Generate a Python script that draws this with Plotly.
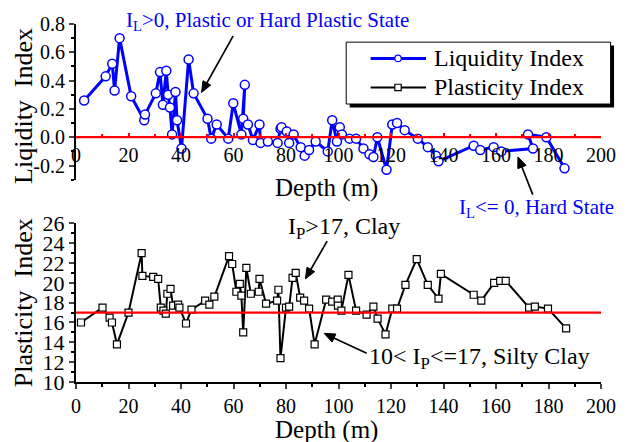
import math
import plotly.graph_objects as go

# ---------------- data ----------------
depth_li = [3.1, 11.3, 13.8, 14.7, 16.6, 21.0, 26.0, 26.3, 30.4, 32.0, 33.1, 34.4, 35.1, 35.8,
            36.6, 37.9, 38.5, 40.2, 42.9, 44.8, 50.1, 51.5, 53.6, 58.0, 59.9, 63.0, 64.3, 63.7,
            65.5, 67.4, 69.9, 70.3, 73.1, 76.8, 77.9, 78.3, 80.3, 81.2, 82.9, 85.6, 87.1, 88.8,
            91.3, 95.9, 97.6, 99.4, 100.5, 101.3, 104.2, 106.7, 109.5, 111.8, 113.3, 114.8, 118.3,
            120.5, 122.3, 125.2, 130.2, 134.0, 137.1, 138.1, 151.5, 154.0, 159.1, 162.0, 174.1,
            172.2, 179.2, 186.1]
li = [0.26, 0.43, 0.52, 0.33, 0.70, 0.29, 0.12, 0.16, 0.31, 0.46, 0.23, 0.47, 0.30, 0.21,
      0.02, 0.32, 0.12, -0.08, 0.55, 0.31, 0.13, -0.01, 0.09, -0.01, 0.24, 0.02, 0.37, 0.13,
      0.09, -0.02, 0.09, -0.04, -0.03, -0.04, 0.06, 0.07, 0.04, -0.04, 0.02, -0.07, -0.13, -0.09,
      -0.03, -0.10, 0.12, -0.03, 0.07, 0.02, -0.01, -0.01, -0.08, -0.12, -0.14, 0.00, -0.23,
      0.09, 0.10, 0.05, -0.01, -0.07, -0.13, -0.17, -0.06, -0.09, -0.07, -0.10, -0.08,
      0.02, 0.00, -0.22]

depth_pi = [1.9, 10.1, 12.8, 13.7, 15.6, 20.0, 25.0, 25.3, 29.4, 31.3, 32.3, 33.3, 34.2, 34.8,
            36.0, 37.0, 38.9, 39.4, 41.9, 44.0, 49.2, 50.8, 52.7, 58.3, 59.5, 61.1, 62.4, 63.0,
            63.7, 64.9, 66.6, 69.6, 69.9, 72.4, 76.6, 77.1, 77.9, 80.0, 81.2, 82.5, 83.7, 85.4,
            86.9, 88.8, 90.9, 95.3, 97.6, 99.7, 99.8, 101.1, 103.8, 106.7, 110.7, 113.3, 114.9,
            117.9, 120.5, 122.3, 125.5, 129.8, 134.0, 138.1, 139.0, 151.5, 154.4, 159.3, 161.6,
            163.7, 172.6, 174.8, 179.8, 186.7]
pi = [16.0, 17.5, 16.5, 16.0, 13.8, 17.0, 23.0, 20.7, 20.6, 20.4, 17.5, 17.2, 16.9, 18.9,
      19.4, 17.7, 17.8, 17.5, 15.9, 17.3, 18.2, 17.8, 18.6, 22.7, 21.9, 19.1, 19.9, 18.7,
      15.0, 21.5, 18.9, 19.1, 20.4, 17.9, 18.2, 19.3, 12.4, 17.5, 17.6, 20.5, 21.0, 18.5,
      18.2, 17.4, 13.8, 18.3, 18.1, 18.3, 17.7, 17.2, 20.8, 17.2, 16.8, 17.6, 16.4,
      14.8, 17.4, 17.4, 19.8, 22.4, 19.8, 18.4, 20.9, 18.8, 18.2, 20.0, 20.2,
      20.2, 17.5, 17.6, 17.4, 15.4]

x_ticks = list(range(0, 201, 20))
li_ticks = [-0.2, 0.0, 0.2, 0.4, 0.6, 0.8]
li_tick_text = ["-0.2", "0.0", "0.2", "0.4", "0.6", "0.8"]
pi_ticks = list(range(10, 27, 2))
li_boundary = 0.0
pi_boundary = 17.0
li_range = [-0.3, 0.8]
pi_range = [10, 26]
depth_range = [0, 200]

# ---------------- layout helpers ----------------
W, H = 628, 442
L, R, T, B = 76, 21, 21, 60
PW, PH = W - L - R, H - T - B
FONT = "Liberation Serif, Times New Roman, serif"


def pxx(x):
    return (x - L) / PW


def pxy(y):
    return (H - B - y) / PH


top_dom = [pxy(178), 1.0]
bot_dom = [0.0, pxy(222)]
zero_frac = (li_boundary - li_range[0]) / (li_range[1] - li_range[0])
xaxis_pos = top_dom[0] + zero_frac * (top_dom[1] - top_dom[0])

fig = go.Figure()
fig.add_trace(go.Scatter(
    x=depth_li, y=li, xaxis="x", yaxis="y", mode="lines+markers", name="Liquidity Index",
    line=dict(color="#0000ff", width=3),
    marker=dict(symbol="circle", size=9, color="white", line=dict(color="#0000ff", width=1.5)),
    showlegend=False))
fig.add_trace(go.Scatter(
    x=depth_pi, y=pi, xaxis="x2", yaxis="y2", mode="lines+markers", name="Plasticity Index",
    line=dict(color="black", width=2),
    marker=dict(symbol="square", size=7, color="white", line=dict(color="black", width=1.2)),
    showlegend=False))

shapes = [
    dict(type="line", xref="x", yref="y", x0=depth_range[0], x1=depth_range[1],
         y0=li_boundary, y1=li_boundary, line=dict(color="#ff0000", width=2.2), layer="above"),
    dict(type="line", xref="x2", yref="y2", x0=depth_range[0], x1=depth_range[1],
         y0=pi_boundary, y1=pi_boundary, line=dict(color="#ff0000", width=2.2), layer="above"),
]

# manual legend box with shadow
lx0, lx1, ly0, ly1 = 349.3, 616.7, 39.3, 101.7
shapes.append(dict(type="rect", xref="paper", yref="paper",
                   x0=pxx(lx0 + 3.5), x1=pxx(lx1 + 3.5), y0=pxy(ly1 + 3.5), y1=pxy(ly0 + 3.5),
                   fillcolor="black", line=dict(width=0), layer="above"))
shapes.append(dict(type="rect", xref="paper", yref="paper",
                   x0=pxx(lx0), x1=pxx(lx1), y0=pxy(ly1), y1=pxy(ly0),
                   fillcolor="white", line=dict(color="black", width=1), layer="above"))
rows = [(55.7, "#0000ff", 3, "circle", "Liquidity Index"),
        (85.0, "black", 2, "square", "Plasticity Index")]
annotations = []
for yy, col, lw, sym, label in rows:
    shapes.append(dict(type="line", xref="paper", yref="paper", x0=pxx(374), x1=pxx(430),
                       y0=pxy(yy), y1=pxy(yy), line=dict(color=col, width=lw), layer="above"))
    shapes.append(dict(type="circle" if sym == "circle" else "rect", xref="paper", yref="paper",
                       xsizemode="pixel", ysizemode="pixel", xanchor=pxx(401.7), yanchor=pxy(yy),
                       x0=-3.2, x1=3.2, y0=-3.2, y1=3.2, fillcolor="white",
                       line=dict(color=col, width=1.2), layer="above"))
    annotations.append(dict(xref="paper", yref="paper", x=pxx(436), y=pxy(yy), text=label,
                            showarrow=False, xanchor="left", yanchor="middle",
                            font=dict(family=FONT, size=24, color="black")))


# arrows drawn as shapes (tail -> head, pixel positions)
def arrow(tail, head, hl=11.0, hw=4.5):
    tx, ty = tail
    hx, hy = head
    d = math.hypot(hx - tx, hy - ty)
    ux, uy = (hx - tx) / d, (hy - ty) / d
    bx, by = hx - ux * hl, hy - uy * hl
    nx, ny = -uy, ux
    p1 = (bx + nx * hw, by + ny * hw)
    p2 = (bx - nx * hw, by - ny * hw)
    path = "M {:.5f},{:.5f} L {:.5f},{:.5f} L {:.5f},{:.5f} Z".format(
        pxx(hx), pxy(hy), pxx(p1[0]), pxy(p1[1]), pxx(p2[0]), pxy(p2[1]))
    return [
        dict(type="line", xref="paper", yref="paper", x0=pxx(tx), y0=pxy(ty),
             x1=pxx(bx + ux * 2), y1=pxy(by + uy * 2), line=dict(color="black", width=1.7),
             layer="above"),
        dict(type="path", xref="paper", yref="paper", path=path, fillcolor="black",
             line=dict(color="black", width=1), layer="above"),
    ]


shapes += arrow((235, 33), (203, 90))
shapes += arrow((538, 193), (523, 155))
shapes += arrow((330, 240), (308, 278))
shapes += arrow((370, 353), (327, 333))

# axis titles as positioned text
annotations += [
    dict(xref="paper", yref="paper", x=pxx(329), y=pxy(186), text="Depth (m)", showarrow=False,
         xanchor="center", yanchor="middle", font=dict(family=FONT, size=25, color="black")),
    dict(xref="paper", yref="paper", x=pxx(329), y=pxy(430), text="Depth (m)", showarrow=False,
         xanchor="center", yanchor="middle", font=dict(family=FONT, size=25, color="black")),
    dict(xref="paper", yref="paper", x=pxx(23), y=pxy(104), text="Liqidity\u00a0 Index",
         showarrow=False, textangle=-90, xanchor="center", yanchor="middle",
         font=dict(family=FONT, size=26, color="black")),
    dict(xref="paper", yref="paper", x=pxx(23), y=pxy(302), text="Plasticity\u00a0 Index",
         showarrow=False, textangle=-90, xanchor="center", yanchor="middle",
         font=dict(family=FONT, size=26, color="black")),
]

# state annotations
annotations += [
    dict(xref="paper", yref="paper", x=pxx(125), y=pxy(18),
         text="I<sub>L</sub>&gt;0, Plastic or Hard Plastic State", showarrow=False,
         xanchor="left", yanchor="middle", font=dict(family=FONT, size=21, color="#0000ff")),
    dict(xref="paper", yref="paper", x=pxx(461.7), y=pxy(206.7),
         text="I<sub>L</sub>&lt;= 0, Hard State", showarrow=False,
         xanchor="left", yanchor="middle", font=dict(family=FONT, size=21, color="#0000ff")),
    dict(xref="paper", yref="paper", x=pxx(288), y=pxy(227),
         text="I<sub>P</sub>&gt;17, Clay", showarrow=False,
         xanchor="left", yanchor="middle", font=dict(family=FONT, size=24, color="black")),
    dict(xref="paper", yref="paper", x=pxx(370), y=pxy(358),
         text="10&lt; I<sub>P</sub>&lt;=17, Silty Clay", showarrow=False,
         xanchor="left", yanchor="middle", font=dict(family=FONT, size=24, color="black")),
]

fig.update_layout(
    width=W, height=H, margin=dict(l=L, r=R, t=T, b=B),
    paper_bgcolor="white", plot_bgcolor="white",
    font=dict(family=FONT, color="black"),
    showlegend=False,
    xaxis=dict(domain=[0, 1], range=depth_range, anchor="free", position=xaxis_pos,
               tickvals=x_ticks, ticks="inside", ticklen=3, tickcolor="#ff0000", tickwidth=1.5,
               showline=True, linecolor="#ff0000", linewidth=2, showgrid=False, zeroline=False,
               tickfont=dict(family=FONT, size=20, color="black"),
               minor=dict(ticks="inside", dtick=10, ticklen=2, tickcolor="#ff0000")),
    yaxis=dict(domain=top_dom, range=li_range, anchor="x", tickvals=li_ticks, ticktext=li_tick_text,
               ticks="outside", ticklen=5, tickwidth=1.5, showline=True, linecolor="black",
               linewidth=2, showgrid=False, zeroline=False,
               tickfont=dict(family=FONT, size=20, color="black"),
               minor=dict(ticks="outside", dtick=0.1, ticklen=3, tickcolor="black")),
    xaxis2=dict(domain=[0, 1], range=depth_range, anchor="y2", tickvals=x_ticks,
                ticks="outside", ticklen=5, tickwidth=1.5, showline=True, linecolor="black",
                linewidth=2, showgrid=False, zeroline=False,
                tickfont=dict(family=FONT, size=20, color="black"),
                minor=dict(ticks="outside", dtick=10, ticklen=3, tickcolor="black")),
    yaxis2=dict(domain=bot_dom, range=pi_range, anchor="x2", tickvals=pi_ticks,
                ticks="outside", ticklen=5, tickwidth=1.5, showline=True, linecolor="black",
                linewidth=2, showgrid=False, zeroline=False,
                tickfont=dict(family=FONT, size=22, color="black"),
                minor=dict(ticks="outside", dtick=1, ticklen=3, tickcolor="black")),
    shapes=shapes,
    annotations=annotations,
)

fig.write_html("out.html")
